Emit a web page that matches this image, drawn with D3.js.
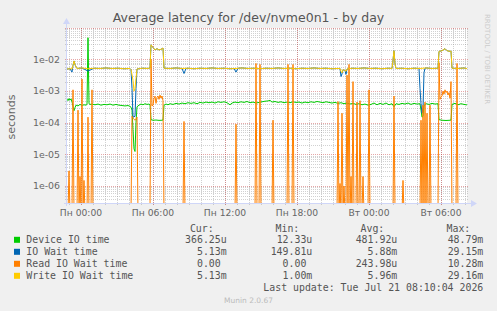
<!DOCTYPE html>
<html>
<head>
<meta charset="utf-8">
<script src="https://cdn.jsdelivr.net/npm/d3@7"></script>
<style>
  body { margin: 0; background: #f0f0f0; }
  svg { display: block; }
</style>
</head>
<body>
<svg id="chart" width="497" height="311"></svg>
<script>
// each point: [5 minute step since graph start, seconds]
let deviceIO = [[0,5.6e-4],[1,5.0e-4],[2,5.8e-4],[3,5.2e-4],[4,5.7e-4],[5,4.6e-4],[7,2.4e-4],[8,3.0e-4],[9,3.6e-4],[11,3.4e-4],
  [13,3.8e-4],[15,3.5e-4],[17,3.7e-4],[19,3.6e-4],[20,3.8e-4],[21,4.879e-2],[22,4.0e-4],[23,3.8e-4],[25,3.9e-4],[28,3.7e-4],
  [31,3.9e-4],[34,3.6e-4],[37,3.8e-4],[40,3.7e-4],[43,3.9e-4],[46,3.6e-4],[49,3.8e-4],[52,3.6e-4],[55,3.5e-4],[58,3.4e-4],
  [61,3.5e-4],[63,3.3e-4],[64,3.1e-4],[65,2.5e-4],[66,6e-5],[67,1.5e-5],[68,1.233e-5],[69,1e-4],[70,3.2e-4],[72,3.6e-4],
  [74,3.9e-4],[76,3.7e-4],[78,4.0e-4],[80,3.8e-4],[82,3.9e-4],[83,3.7e-4],[84,1.25e-4],[86,1.2e-4],[89,1.22e-4],[92,1.19e-4],
  [95,1.2e-4],[96,1.22e-4],[97,3.6e-4],[99,3.9e-4],[101,3.7e-4],[103,4.0e-4],[106,3.8e-4],[109,4.1e-4],[112,3.9e-4],[115,4.2e-4],
  [118,4.0e-4],[121,4.3e-4],[124,4.1e-4],[127,4.3e-4],[130,4.0e-4],[133,4.4e-4],[136,4.2e-4],[139,4.5e-4],[142,4.3e-4],[145,4.5e-4],
  [148,4.2e-4],[151,4.6e-4],[154,4.4e-4],[157,4.6e-4],[160,4.3e-4],[163,3.7e-4],[165,4.2e-4],[168,4.5e-4],[171,4.3e-4],[174,4.6e-4],
  [177,4.4e-4],[180,4.7e-4],[183,4.3e-4],[186,4.5e-4],[189,4.2e-4],[192,4.4e-4],[195,4.6e-4],[198,4.8e-4],[201,4.9e-4],[203,5.1e-4],
  [205,4.5e-4],[208,4.7e-4],[211,4.4e-4],[214,4.6e-4],[217,4.3e-4],[220,4.5e-4],[223,4.3e-4],[226,4.6e-4],[229,4.4e-4],[232,4.5e-4],
  [235,4.2e-4],[238,4.5e-4],[241,4.3e-4],[244,4.6e-4],[247,4.4e-4],[250,4.7e-4],[253,4.5e-4],[256,4.3e-4],[259,4.6e-4],[262,4.4e-4],
  [265,4.2e-4],[268,4.4e-4],[271,4.1e-4],[274,4.3e-4],[277,4.0e-4],[280,4.2e-4],[283,3.9e-4],[286,4.1e-4],[289,3.8e-4],[292,4.0e-4],
  [295,3.7e-4],[298,3.9e-4],[301,3.6e-4],[304,3.8e-4],[307,4.2e-4],[310,3.7e-4],[313,4.1e-4],[316,3.8e-4],[319,4.2e-4],[322,3.7e-4],
  [325,4.0e-4],[327,3.2e-4],[329,4.0e-4],[332,3.8e-4],[335,4.1e-4],[338,3.9e-4],[341,4.2e-4],[344,3.8e-4],[347,4.1e-4],[350,3.9e-4],
  [353,4.0e-4],[354,2.5e-4],[355,1.5e-4],[356,1.6e-4],[357,3.5e-4],[359,4.0e-4],[362,3.8e-4],[365,4.1e-4],[368,3.9e-4],[371,4.0e-4],
  [372,1.25e-4],[375,1.2e-4],[379,1.18e-4],[383,1.2e-4],[384,1.22e-4],[385,3.8e-4],[388,4.1e-4],[391,3.7e-4],[394,4.0e-4],[397,3.8e-4],
  [400,3.6625e-4]]

let ioWait = [[0,5.0e-3],[3,5.1e-3],[5,4.0e-3],[6,6.5e-3],[7,9.0e-3],[8,6.8e-3],[10,5.2e-3],[15,5.4e-3],[21,4.3e-3],[27,5.3e-3],
  [33,5.2e-3],[39,5.4e-3],[45,5.2e-3],[51,5.3e-3],[57,5.1e-3],[63,5.2e-3],[64,4.8e-3],[65,1.2e-3],[66,1.5e-4],[68,1.6e-4],
  [69,1.2e-3],[70,5.0e-3],[75,5.3e-3],[81,5.2e-3],[83,5.4e-3],[84,2.915e-2],[86,2.4e-2],[88,2.0e-2],[90,2.2e-2],[92,2.0e-2],
  [94,2.1e-2],[96,2.3e-2],[97,5.3e-3],[103,5.2e-3],[109,5.4e-3],[115,5.2e-3],[117,3.6e-3],[119,5.2e-3],[121,5.3e-3],[127,5.1e-3],
  [133,5.3e-3],[139,5.2e-3],[145,5.4e-3],[151,5.2e-3],[157,5.3e-3],[163,5.1e-3],[167,5.2e-3],[169,4.0e-3],[171,5.3e-3],[175,5.4e-3],
  [181,5.2e-3],[187,5.3e-3],[193,5.1e-3],[199,5.3e-3],[205,5.2e-3],[211,5.4e-3],[217,5.2e-3],[223,5.3e-3],[229,5.1e-3],[235,5.3e-3],
  [241,5.2e-3],[247,5.4e-3],[253,5.2e-3],[259,5.3e-3],[265,5.1e-3],[271,5.2e-3],[273,5.2e-3],[274,2.9e-3],[275,3.5e-3],[276,4.8e-3],
  [278,4.5e-3],[279,3.4e-3],[280,5.0e-3],[285,5.3e-3],[291,5.2e-3],[297,5.4e-3],[303,5.2e-3],[309,5.3e-3],[315,5.1e-3],[321,5.3e-3],
  [325,5.2e-3],[326,9.6e-3],[327,1.9e-2],[328,7.2e-3],[329,5.2e-3],[335,5.3e-3],[341,5.1e-3],[347,5.3e-3],[352,5.2e-3],[353,1.2e-3],
  [354,4e-4],[355,2e-4],[356,3e-4],[357,3.8e-3],[358,5.3e-3],[359,5.4e-3],[365,5.2e-3],[371,5.3e-3],[372,1.8e-2],[375,1.9e-2],
  [378,2.2e-2],[380,1.9e-2],[383,1.8e-2],[384,1.85e-2],[385,5.3e-3],[391,5.2e-3],[397,5.4e-3],[400,5.13e-3]]

// read wait is zero except at these steps
let readWait = [[2,3e-6],[6,1.1e-3],[11,2.5e-4],[13,2e-6],[15,2.4e-3],[17,1.5e-6],[21,1.5e-4],[25,1.1e-3],
  [65,1.6e-4],[66,1.4e-4],[67,1.3e-4],[68,1.2e-4],[69,1.3e-4],[70,1.5e-4],
  [84,1.028e-2],[85,3.4e-4],[86,3.6e-4],[87,5.9e-4],[88,6.9e-4],[89,4.1e-4],[90,6.4e-4],[91,7e-4],[92,5.5e-4],[93,7.5e-4],
  [94,6e-4],[95,7e-4],[96,5e-4],[117,1.1e-4],[169,9e-5],[189,7.5e-3],[193,7e-3],[206,1.2e-4],[221,7e-3],[226,7e-3],
  [271,4.7e-4],[273,1.2e-6],[275,2e-4],[277,1e-6],[280,3.2e-3],[282,7e-3],[284,2e-6],[286,2e-3],[290,4.5e-4],[293,5e-4],
  [296,2e-6],[302,1.1e-3],[327,7e-4],[336,1.5e-6],[354,1.2e-4],[356,3.6e-4],[358,4.5e-4],[360,2e-4],[363,3.6e-4],
  [372,8e-3],[373,5.5e-4],[374,6.5e-4],[375,7e-4],[376,1e-3],[377,8e-4],[378,1.1e-3],[379,9e-4],[380,1e-3],[381,7.5e-4],
  [382,9e-4],[383,6e-4],[384,2e-3],[390,7.5e-3]]

let writeWait = [[0,5.0e-3],[3,5.1e-3],[5,5.0e-3],[6,6.5e-3],[7,9.0e-3],[8,6.8e-3],[10,5.2e-3],[15,5.4e-3],[21,5.1e-3],[27,5.3e-3],
  [33,5.2e-3],[39,5.4e-3],[45,5.2e-3],[51,5.3e-3],[57,5.1e-3],[63,5.2e-3],[64,4.8e-3],[66,2.2e-3],[67,1.0e-3],[68,1.2e-3],
  [69,2.5e-3],[70,5.0e-3],[75,5.3e-3],[81,5.2e-3],[83,5.4e-3],[84,2.916e-2],[86,2.4e-2],[88,2.0e-2],[90,2.2e-2],[92,2.0e-2],
  [94,2.1e-2],[96,2.3e-2],[97,5.3e-3],[103,5.2e-3],[109,5.4e-3],[115,5.2e-3],[121,5.3e-3],[127,5.1e-3],[133,5.3e-3],[139,5.2e-3],
  [145,5.4e-3],[151,5.2e-3],[157,5.3e-3],[163,5.1e-3],[169,5.2e-3],[175,5.4e-3],[181,5.2e-3],[187,5.3e-3],[193,5.1e-3],[199,5.3e-3],
  [205,5.2e-3],[211,5.4e-3],[217,5.2e-3],[223,5.3e-3],[229,5.1e-3],[235,5.3e-3],[241,5.2e-3],[247,5.4e-3],[253,5.2e-3],[259,5.3e-3],
  [265,5.1e-3],[271,5.2e-3],[273,5.2e-3],[274,4.2e-3],[275,3.8e-3],[276,4.8e-3],[278,4.5e-3],[279,4.2e-3],[280,5.0e-3],[285,5.3e-3],
  [291,5.2e-3],[297,5.4e-3],[303,5.2e-3],[309,5.3e-3],[315,5.1e-3],[321,5.3e-3],[325,5.2e-3],[326,9.6e-3],[327,1.9e-2],[328,7.2e-3],
  [329,5.2e-3],[335,5.3e-3],[341,5.1e-3],[347,5.3e-3],[353,5.2e-3],[359,5.4e-3],[365,5.2e-3],[371,5.3e-3],[372,1.8e-2],[375,1.9e-2],
  [378,2.2e-2],[380,1.9e-2],[383,1.8e-2],[384,1.85e-2],[385,5.3e-3],[391,5.2e-3],[397,5.4e-3],[400,5.13e-3]]

let legendNames = ["Device IO time", "IO Wait time", "Read IO Wait time", "Write IO Wait time"]
let legendColors = ["#00cc00", "#0066b3", "#ff8000", "#ffcc00"]
let curVals = ["366.25u", "5.13m", "0.00 ", "5.13m"]
let minVals = ["12.33u", "149.81u", "0.00 ", "1.00m"]
let avgVals = ["481.92u", "5.88m", "243.98u", "5.96m"]
let maxVals = ["48.79m", "29.15m", "10.28m", "29.16m"]
let yTicks = [1e-6, 1e-5, 1e-4, 1e-3, 1e-2]
let dayNames = ["Вс", "Пн", "Вт", "Ср", "Чт", "Пт", "Сб"]

let svg = d3.select("#chart")
let plotLeft = 67, plotRight = 467, plotTop = 28, plotBottom = 203
let startTime = new Date(2026, 6, 19, 22, 50)
let stepTime = i => new Date(startTime.getTime() + i * 300000)

let xScale = d3.scaleTime().domain([startTime, stepTime(400)]).range([plotLeft, plotRight])
let yScale = d3.scaleLog().domain([Math.pow(10, -6.5375), Math.pow(10, -1.004)]).range([plotBottom, plotTop])

svg.append("rect").attr("width", 497).attr("height", 311).attr("fill", "#f0f0f0")
svg.append("rect").attr("x", plotLeft).attr("y", plotTop)
  .attr("width", plotRight - plotLeft).attr("height", plotBottom - plotTop).attr("fill", "#fff")

svg.append("clipPath").attr("id", "plot")
  .append("rect").attr("x", plotLeft).attr("y", plotTop - 1)
  .attr("width", plotRight - plotLeft).attr("height", plotBottom - plotTop + 1)

// grid: minor lines first, major lines above
let minorY = []
for (let e = -7; e <= -1; e++) {
  for (let k = 2; k <= 9; k++) {
    let v = k * Math.pow(10, e)
    if (v >= yScale.domain()[0] && v <= yScale.domain()[1]) minorY.push(v)
  }
}
let grid = svg.append("g")
grid.selectAll(".ymin").data(minorY).enter().append("line")
  .attr("x1", plotLeft - 2).attr("x2", plotRight + 2)
  .attr("y1", d => Math.round(yScale(d)) + 0.5).attr("y2", d => Math.round(yScale(d)) + 0.5)
  .attr("stroke", "rgba(140,140,140,0.4)").attr("stroke-dasharray", "1,1")
grid.selectAll(".xmin").data(xScale.ticks(d3.timeHour.every(1))).enter().append("line")
  .attr("x1", d => Math.round(xScale(d)) + 0.5).attr("x2", d => Math.round(xScale(d)) + 0.5)
  .attr("y1", plotTop).attr("y2", plotBottom + 2)
  .attr("stroke", "rgba(140,140,140,0.4)").attr("stroke-dasharray", "1,1")
grid.selectAll(".ymaj").data(yTicks.concat([0.1])).enter().append("line")
  .attr("x1", plotLeft - 2).attr("x2", plotRight + 2)
  .attr("y1", d => Math.round(yScale(d)) + 0.5).attr("y2", d => Math.round(yScale(d)) + 0.5)
  .attr("stroke", "rgba(200,60,60,0.45)").attr("stroke-dasharray", "1,1")
grid.selectAll(".xmaj").data(xScale.ticks(d3.timeHour.every(6))).enter().append("line")
  .attr("x1", d => Math.round(xScale(d)) + 0.5).attr("x2", d => Math.round(xScale(d)) + 0.5)
  .attr("y1", plotTop).attr("y2", plotBottom + 3)
  .attr("stroke", "rgba(200,60,60,0.45)").attr("stroke-dasharray", "1,1")

// zero read values go below the plot and get clipped
let readFull = d3.range(0, 401).map(i => [i, 0])
readWait.forEach(d => { readFull[d[0]][1] = d[1] })

let line = d3.line()
  .x(d => xScale(stepTime(d[0])))
  .y(d => d[1] > 0 ? yScale(d[1]) : plotBottom + 10)

let lines = svg.append("g").attr("clip-path", "url(#plot)")
let series = [deviceIO, ioWait, readFull, writeWait]
series.forEach((s, i) => {
  lines.append("path")
    .attr("d", line(s))
    .attr("fill", "none")
    .attr("stroke", legendColors[i])
    .attr("stroke-width", 1)
})

// axes with arrows
let axisColor = "#cfd6f8"
svg.append("line").attr("x1", plotLeft - 0.5).attr("x2", plotLeft - 0.5)
  .attr("y1", plotBottom + 3).attr("y2", plotTop - 6).attr("stroke", axisColor)
svg.append("path").attr("d", `M${plotLeft - 4},${plotTop - 4}L${plotLeft - 0.5},${plotTop - 10}L${plotLeft + 3},${plotTop - 4}Z`)
  .attr("fill", axisColor)
svg.append("line").attr("x1", plotLeft - 3).attr("x2", plotRight + 6)
  .attr("y1", plotBottom + 0.5).attr("y2", plotBottom + 0.5).attr("stroke", axisColor)
svg.append("path").attr("d", `M${plotRight + 4},${plotBottom - 3}L${plotRight + 10},${plotBottom + 0.5}L${plotRight + 4},${plotBottom + 4}Z`)
  .attr("fill", axisColor)

let font = "'DejaVu Sans', sans-serif"
let mono = "'DejaVu Sans Mono', monospace"
let textColor = "#666"

// y labels
let yFormat = d => {
  let e = Math.round(Math.log10(d))
  return "1e" + (e < 0 ? "-" : "+") + String(Math.abs(e)).padStart(2, "0")
}
svg.selectAll(".ylab").data(yTicks).enter().append("text")
  .attr("x", 60).attr("y", d => yScale(d)).attr("dy", "0.35em")
  .attr("text-anchor", "end")
  .style("font", `9.4px ${font}`).attr("fill", textColor)
  .text(yFormat)

// x labels
svg.selectAll(".xlab").data(xScale.ticks(d3.timeHour.every(6))).enter().append("text")
  .attr("x", d => xScale(d)).attr("y", 215.5)
  .attr("text-anchor", "middle")
  .style("font", `9.2px ${font}`).attr("fill", textColor)
  .text(d => dayNames[d.getDay()] + " " + d3.timeFormat("%H:%M")(d))

// title
let title = svg.append("text")
  .attr("x", 248.5).attr("y", 22)
  .attr("text-anchor", "middle")
  .style("font", `13px ${font}`).attr("fill", "#555")
  .text("Average latency for /dev/nvme0n1 - by day")
let tw = title.node().getComputedTextLength()
title.style("font-size", (13 * 272 / tw) + "px")

svg.append("text")
  .attr("transform", "translate(15,117) rotate(-90)")
  .attr("text-anchor", "middle")
  .style("font", `11px ${font}`).attr("fill", textColor)
  .text("seconds")

svg.append("text")
  .attr("transform", "translate(485,14) rotate(90)")
  .style("font", `7px ${font}`).attr("fill", "#cccccc")
  .text("RRDTOOL / TOBI OETIKER")

// legend
let charW = 5.96
let colEnds = [226.7, 312.3, 397.3, 483.3]
let headers = ["Cur:", "Min:", "Avg:", "Max:"]
let legend = svg.append("g").style("font", `9.9px ${mono}`).attr("fill", "#555")
headers.forEach((h, i) => {
  legend.append("text").attr("x", colEnds[i] - 13).attr("y", 231.5).attr("text-anchor", "end").text(h)
})
let columns = [curVals, minVals, avgVals, maxVals]
legendNames.forEach((name, r) => {
  let y = 243.3 + r * 12
  legend.append("rect").attr("x", 14).attr("y", y - 6.5).attr("width", 6).attr("height", 6).attr("fill", legendColors[r])
  legend.append("text").attr("x", 26.3).attr("y", y).text(name)
  columns.forEach((col, c) => {
    let s = col[r]
    let pad = s.endsWith(" ") ? charW : 0
    legend.append("text").attr("x", colEnds[c] - pad).attr("y", y).attr("text-anchor", "end").text(s.trim())
  })
})
legend.append("text").attr("x", 483.3).attr("y", 291.3).attr("text-anchor", "end")
  .text("Last update: Tue Jul 21 08:10:04 2026")

svg.append("text")
  .attr("x", 248.5).attr("y", 303)
  .attr("text-anchor", "middle")
  .style("font", `7.5px ${font}`).attr("fill", "#bbbbbb")
  .text("Munin 2.0.67")
</script>
</body>
</html>
